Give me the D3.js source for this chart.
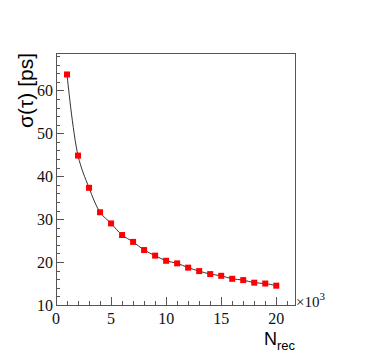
<!DOCTYPE html>
<html>
<head>
<meta charset="utf-8">
<script src="https://cdn.jsdelivr.net/npm/d3@7"></script>
<style>
body { margin: 0; background: #fff; }
.tick-lbl { font: 16px "Liberation Serif", "Times New Roman", serif; fill: #111; }
.title { font-family: "Liberation Sans", Arial, sans-serif; fill: #000; }
</style>
</head>
<body>
<div id="chart"></div>
<script>
// N_rec (x10^3)
var nRec = [1, 2, 3, 4, 5, 6, 7, 8, 9, 10, 11, 12, 13, 14, 15, 16, 17, 18, 19, 20];
// sigma(tau) in ps
var sigma = [63.7, 44.8, 37.3, 31.6, 29.0, 26.3, 24.7, 22.8, 21.5, 20.3,
	19.7, 18.7, 17.9, 17.2, 16.8, 16.1, 15.8, 15.2, 15.0, 14.5];
var xTicks = [0, 5, 10, 15, 20];
var yTicks = [10, 20, 30, 40, 50, 60];

var margin = { top: 53, right: 79, bottom: 56, left: 56 },
	width = 374 - margin.left - margin.right,
	height = 361 - margin.top - margin.bottom;

var svg = d3.select("#chart").append("svg")
	.attr("width", 374)
	.attr("height", 361);

var g = svg.append("g")
	.attr("transform", "translate(" + margin.left + "," + margin.top + ")");

var x = d3.scaleLinear().domain([0, 21.7]).range([0, width]);
var y = d3.scaleLinear().domain([10, 68.7]).range([height, 0]);

var axisColor = "#555";

// frame
g.append("rect")
	.attr("x", 0.5).attr("y", 0.5)
	.attr("width", width).attr("height", height)
	.attr("fill", "none")
	.attr("stroke", axisColor);

// x ticks (inward)
g.selectAll(".xminor")
	.data(d3.range(0, 22))
	.enter().append("line")
	.attr("x1", function(d) { return Math.round(x(d)) + 0.5; })
	.attr("x2", function(d) { return Math.round(x(d)) + 0.5; })
	.attr("y1", height)
	.attr("y2", function(d) { return height - (d % 5 === 0 ? 8 : 4); })
	.attr("stroke", axisColor);

g.selectAll(".xlbl")
	.data(xTicks)
	.enter().append("text")
	.attr("class", "tick-lbl")
	.attr("x", function(d) { return x(d); })
	.attr("y", height + 19)
	.attr("text-anchor", "middle")
	.text(function(d) { return d; });

// y ticks (inward)
g.selectAll(".yminor")
	.data(d3.range(10, 69, 2))
	.enter().append("line")
	.attr("x1", 0)
	.attr("x2", function(d) { return (d % 10 === 0 ? 8 : 4); })
	.attr("y1", function(d) { return Math.round(y(d)) + 0.5; })
	.attr("y2", function(d) { return Math.round(y(d)) + 0.5; })
	.attr("stroke", axisColor);

g.selectAll(".ylbl")
	.data(yTicks)
	.enter().append("text")
	.attr("class", "tick-lbl")
	.attr("x", -3)
	.attr("y", function(d) { return y(d); })
	.attr("dy", "0.35em")
	.attr("text-anchor", "end")
	.text(function(d) { return d; });

// exponent label
var ex = g.append("text")
	.attr("class", "tick-lbl")
	.attr("x", width + 1)
	.attr("y", height + 2)
	.style("font-size", "15px");
ex.append("tspan").text("\u00d710");
ex.append("tspan").attr("dy", -7).style("font-size", "11px").text("3");

// curve
var line = d3.line()
	.curve(d3.curveCatmullRom)
	.x(function(d, i) { return x(nRec[i]); })
	.y(function(d) { return y(d); });

g.append("path")
	.datum(sigma)
	.attr("d", line)
	.attr("fill", "none")
	.attr("stroke", "#333")
	.attr("stroke-width", 1);

// markers
g.selectAll(".pt")
	.data(sigma)
	.enter().append("rect")
	.attr("x", function(d, i) { return x(nRec[i]) - 3; })
	.attr("y", function(d) { return y(d) - 3; })
	.attr("width", 6)
	.attr("height", 6)
	.attr("fill", "#ff0000");

// titles
g.append("text")
	.attr("class", "title")
	.attr("transform", "translate(-23,0) rotate(-90)")
	.attr("text-anchor", "end")
	.style("font-size", "21px")
	.text("\u03c3(\u03c4) [ps]");

var xt = g.append("text")
	.attr("class", "title")
	.attr("x", width)
	.attr("y", height + 40)
	.attr("text-anchor", "end")
	.style("font-size", "18px");
xt.append("tspan").text("N");
xt.append("tspan").attr("dy", 5).style("font-size", "13px").text("rec");
</script>
</body>
</html>
